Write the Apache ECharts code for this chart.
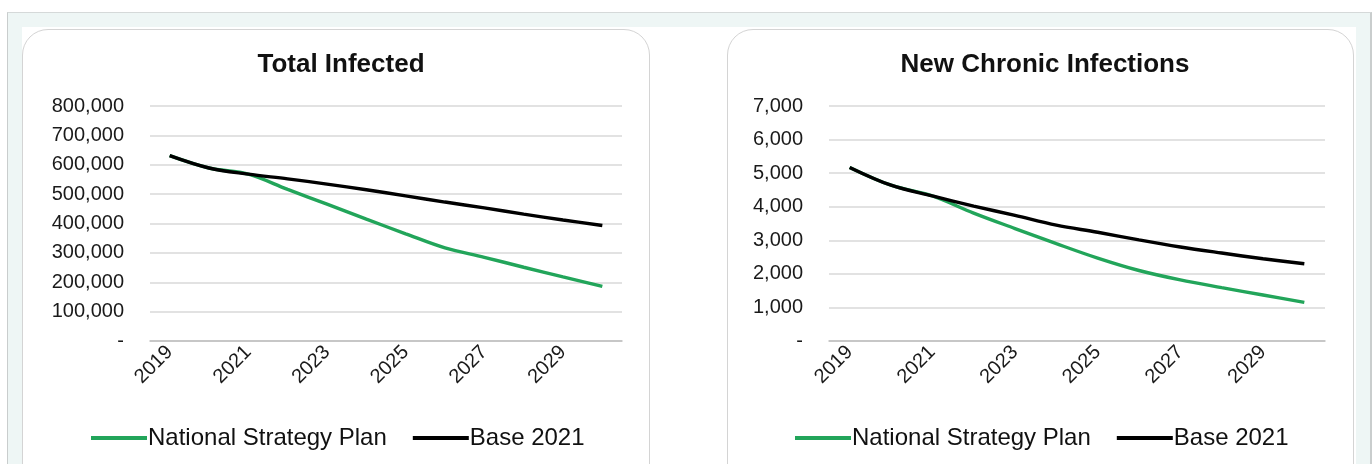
<!DOCTYPE html>
<html>
<head>
<meta charset="utf-8">
<script src="https://cdn.jsdelivr.net/npm/echarts@6/dist/echarts.min.js"></script>
<style>
	body { margin: 0; background: #fff; }
	.frame { position: absolute; left: 7px; top: 12px; width: 1362px; height: 470px; background: #eef6f5;
		border-left: 1px solid #c9cdcd; border-top: 1px solid #d5d9d9; border-right: 2px solid #c9cdcd; }
	.inner { position: absolute; left: 22px; top: 27px; width: 1334px; height: 450px; background: #fff; }
	.card { position: absolute; top: 29px; height: 470px; border: 1.5px solid #d4d4d4; border-radius: 26px; background: #fff; box-sizing: border-box; }
	#main { position: absolute; left: 0; top: 0; width: 1372px; height: 464px; }
</style>
</head>
<body>
<div class="frame"></div>
<div class="inner"></div>
<div class="card" style="left:22px;width:628px"></div>
<div class="card" style="left:727px;width:627px"></div>
<div id="main"></div>
<script>
	const years = ['2019', '2020', '2021', '2022', '2023', '2024', '2025', '2026', '2027', '2028', '2029', '2030'];
	const seriesNames = ['National Strategy Plan', 'Base 2021'];

	// Total Infected
	const totalNSP = [631000, 589000, 568000, 516000, 466000, 415000, 365000, 317000, 285000, 251000, 218000, 186000];
	const totalBase = [631000, 589000, 568000, 552000, 534000, 515000, 494000, 473000, 453000, 432000, 412000, 393000];

	// New Chronic Infections
	const chronicNSP = [5170, 4640, 4320, 3810, 3350, 2900, 2470, 2100, 1820, 1590, 1370, 1150];
	const chronicBase = [5170, 4640, 4320, 4020, 3740, 3450, 3240, 3010, 2800, 2620, 2450, 2300];

	const GREEN = '#22a55a';
	const FONT = 'Liberation Sans';

	let myCharts = echarts.init(document.getElementById('main'));

	function yAxis(idx, max, step) {
		return {
			type: 'value', gridIndex: idx, min: 0, max: max, interval: step,
			axisLine: {show: false}, axisTick: {show: false},
			splitLine: {lineStyle: {color: '#d9d9d9', width: 1.5}},
			axisLabel: {
				color: '#1a1a1a', fontSize: 20, fontFamily: FONT, margin: 26,
				formatter: v => v === 0 ? '-' : v.toLocaleString('en-US')
			}
		};
	}

	function xAxis(idx) {
		return {
			type: 'category', gridIndex: idx, data: years, boundaryGap: true,
			axisLine: {lineStyle: {color: '#bfbfbf', width: 1.5}},
			axisTick: {interval: 1, length: 6, lineStyle: {color: '#bfbfbf', width: 1.5}},
			axisLabel: {interval: 1, rotate: 45, color: '#1a1a1a', fontSize: 20, fontFamily: FONT, margin: 8}
		};
	}

	function line(name, data, idx, color) {
		return {
			name: name, type: 'line', data: data, xAxisIndex: idx, yAxisIndex: idx,
			symbol: 'none', smooth: 0.35,
			lineStyle: {color: color, width: 3.4}, itemStyle: {color: color}
		};
	}

	function legend(center) {
		return {
			data: seriesNames, left: center - 250, top: 421, icon: 'rect', itemWidth: 56, itemHeight: 4, itemGap: 26,
			textStyle: {fontSize: 24, fontFamily: FONT, color: '#111', padding: [0, 0, 0, -4]}
		};
	}

	let option = {
		animation: false,
		title: [
			{text: 'Total Infected', left: 336, top: 47, textAlign: 'center',
				textStyle: {fontSize: 26, fontWeight: 'bold', fontFamily: FONT, color: '#111'}},
			{text: 'New Chronic Infections', left: 1040, top: 47, textAlign: 'center',
				textStyle: {fontSize: 26, fontWeight: 'bold', fontFamily: FONT, color: '#111'}}
		],
		legend: [legend(336), legend(1040)],
		grid: [
			{left: 150, top: 106, width: 472, height: 235},
			{left: 829, top: 106, width: 496, height: 235}
		],
		xAxis: [xAxis(0), xAxis(1)],
		yAxis: [yAxis(0, 800000, 100000), yAxis(1, 7000, 1000)],
		series: [
			line(seriesNames[0], totalNSP, 0, GREEN),
			line(seriesNames[1], totalBase, 0, '#000'),
			line(seriesNames[0], chronicNSP, 1, GREEN),
			line(seriesNames[1], chronicBase, 1, '#000')
		]
	};
	myCharts.setOption(option);
</script>
</body>
</html>
